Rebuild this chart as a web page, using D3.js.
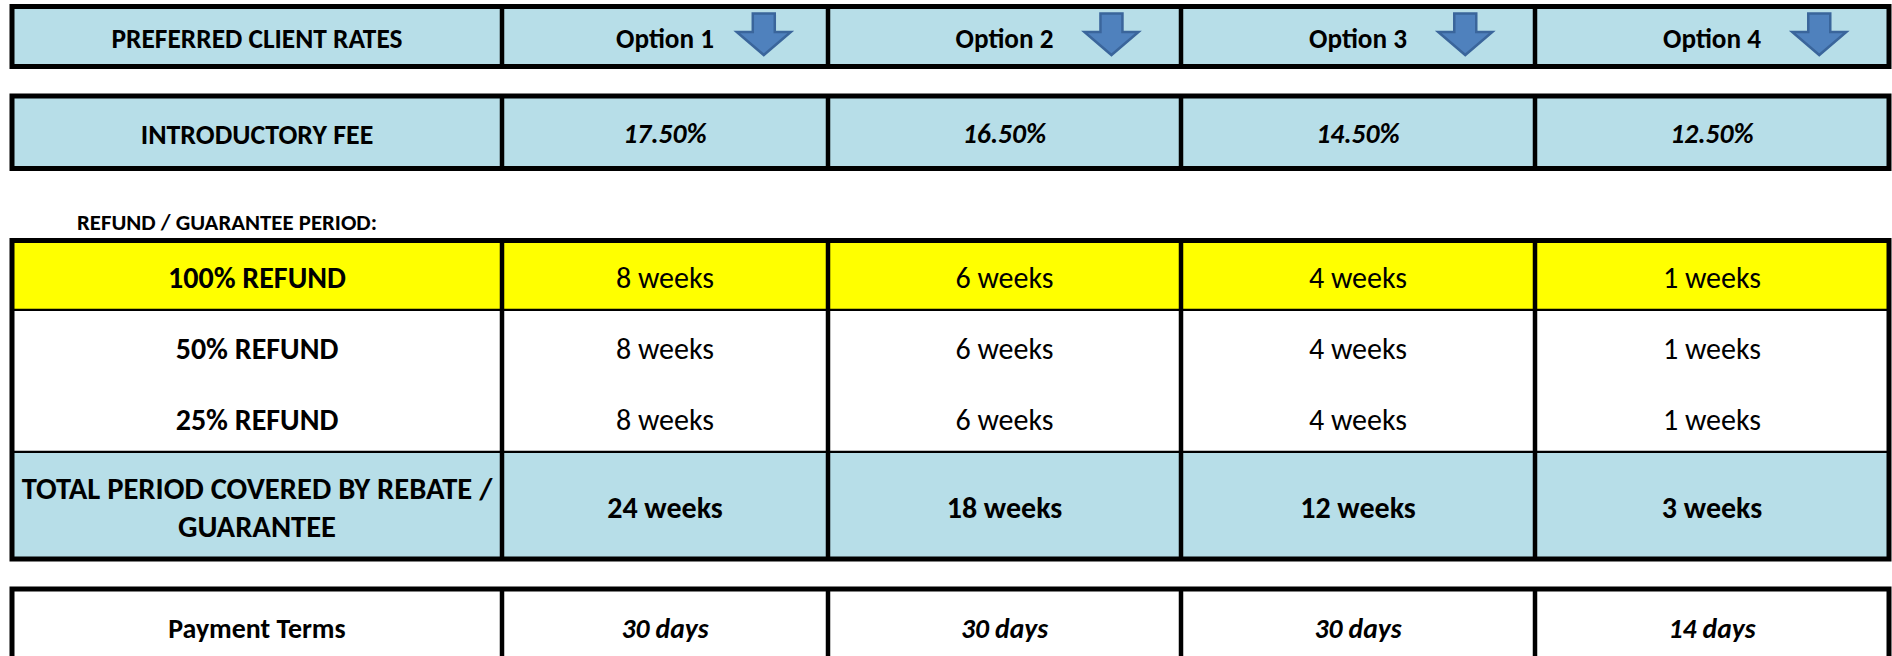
<!DOCTYPE html>
<html lang="en">
<head>
    <meta charset="UTF-8">
    <title>Preferred Client Rates</title>
    <script src="https://d3js.org/d3.v7.min.js"></script>
    <style>
        body { margin: 0; background: #fff; }
        text { font-family: Carlito, Calibri, Lato, sans-serif; fill: #000; }
    </style>
</head>
<body>
<script>
    // Table content
    var options = ["Option 1", "Option 2", "Option 3", "Option 4"];
    var introFees = ["17.50%", "16.50%", "14.50%", "12.50%"];
    var refundLabels = ["100% REFUND", "50% REFUND", "25% REFUND"];
    var refund100Weeks = [8, 6, 4, 1];
    var refund50Weeks = [8, 6, 4, 1];
    var refund25Weeks = [8, 6, 4, 1];
    var totalWeeks = [24, 18, 12, 3];
    var paymentDays = [30, 30, 30, 14];

    // Layout
    var width = 1892, height = 656;
    var colEdges = [12, 502, 828, 1181, 1535, 1889];
    var blue = "#b7dee8", yellow = "#ffff00";

    var svg = d3.select("body").append("svg")
        .attr("width", width)
        .attr("height", height);

    // x position of column i (0 = label column)
    var colLeft = d3.scaleOrdinal().domain(d3.range(5)).range(colEdges.slice(0, 5));
    var colRight = d3.scaleOrdinal().domain(d3.range(5)).range(colEdges.slice(1));
    function colCenter(i) { return (colLeft(i) + colRight(i)) / 2; }

    function weeks(n) { return n + " weeks"; }
    function days(n) { return n + " days"; }

    // each block: list of rows with y-range, fill, label and values
    var blocks = [
        { rows: [
            { y0: 6.5, y1: 66.5, fill: blue, label: ["PREFERRED CLIENT RATES"], values: options,
              size: 27.2, weight: "bold", style: "normal", labelSize: 27.4, arrow: true }
        ] },
        { rows: [
            { y0: 96, y1: 168.5, fill: blue, label: ["INTRODUCTORY FEE"], values: introFees,
              size: 27.6, weight: "bold", style: "italic", labelSize: 27.9 }
        ] },
        { rows: [
            { y0: 240.5, y1: 311, fill: yellow, label: [refundLabels[0]], values: refund100Weeks.map(weeks),
              size: 30, weight: "normal", style: "normal", labelSize: 30, line: true },
            { y0: 311, y1: 383, fill: "#fff", label: [refundLabels[1]], values: refund50Weeks.map(weeks),
              size: 30, weight: "normal", style: "normal", labelSize: 30, line: false },
            { y0: 383, y1: 453, fill: "#fff", label: [refundLabels[2]], values: refund25Weeks.map(weeks),
              size: 30, weight: "normal", style: "normal", labelSize: 30, line: true },
            { y0: 453, y1: 559, fill: blue, label: ["TOTAL PERIOD COVERED BY REBATE /", "GUARANTEE"],
              values: totalWeeks.map(weeks), size: 30, weight: "bold", style: "normal", labelSize: 30.6 }
        ] },
        { rows: [
            { y0: 589, y1: 664, fill: "#fff", label: ["Payment Terms"], values: paymentDays.map(days),
              size: 27.6, weight: "bold", style: "italic", labelSize: 27.9 }
        ] }
    ];

    blocks.forEach(function (block) {
        var g = svg.append("g");
        var top = block.rows[0].y0, bottom = block.rows[block.rows.length - 1].y1;

        block.rows.forEach(function (row) {
            // cell fills
            g.selectAll(null)
                .data(d3.range(5))
                .enter().append("rect")
                .attr("x", function (i) { return colLeft(i); })
                .attr("y", row.y0)
                .attr("width", function (i) { return colRight(i) - colLeft(i); })
                .attr("height", row.y1 - row.y0)
                .attr("fill", row.fill);

            var cy = (row.y0 + row.y1) / 2 + 1.5;

            // row label (may wrap to two lines)
            var lineGap = 38;
            row.label.forEach(function (t, k) {
                g.append("text")
                    .attr("x", colCenter(0))
                    .attr("y", cy + (k - (row.label.length - 1) / 2) * lineGap)
                    .attr("text-anchor", "middle")
                    .attr("dominant-baseline", "central")
                    .style("font-size", row.labelSize + "px")
                    .style("font-weight", "bold")
                    .text(t);
            });

            // values
            g.selectAll(null)
                .data(row.values)
                .enter().append("text")
                .attr("x", function (d, i) { return colCenter(i + 1); })
                .attr("y", cy)
                .attr("text-anchor", "middle")
                .attr("dominant-baseline", "central")
                .style("font-size", row.size + "px")
                .style("font-weight", row.weight)
                .style("font-style", row.style)
                .text(function (d) { return d; });

            // down arrows next to the option names
            if (row.arrow) {
                g.selectAll(null)
                    .data(row.values)
                    .enter().append("path")
                    .attr("transform", function (d, i) {
                        var c = i + 1;
                        var ax = colCenter(c) + 0.303 * (colRight(c) - colLeft(c));
                        return "translate(" + ax + "," + row.y0 + ")";
                    })
                    .attr("d", "M-11,7 L11,7 L11,25.5 L27,25.5 L0,48.5 L-27,25.5 L-11,25.5 Z")
                    .attr("fill", "#4f81bd")
                    .attr("stroke", "#3a659b")
                    .attr("stroke-width", 2.5)
                    .attr("stroke-linejoin", "miter");
            }

            // horizontal separator under row
            if (row.line) {
                g.append("line")
                    .attr("x1", colEdges[0]).attr("x2", colEdges[5])
                    .attr("y1", row.y1).attr("y2", row.y1)
                    .attr("stroke", "#000").attr("stroke-width", 4.5);
            }
        });

        // vertical dividers
        g.selectAll(null)
            .data(colEdges.slice(1, 5))
            .enter().append("line")
            .attr("x1", function (d) { return d; }).attr("x2", function (d) { return d; })
            .attr("y1", top).attr("y2", bottom)
            .attr("stroke", "#000").attr("stroke-width", 4.5);

        // outer border
        g.append("rect")
            .attr("x", colEdges[0]).attr("y", top)
            .attr("width", colEdges[5] - colEdges[0])
            .attr("height", bottom - top)
            .attr("fill", "none")
            .attr("stroke", "#000")
            .attr("stroke-width", 5);
    });

    // section caption above the refund table
    svg.append("text")
        .attr("x", 77)
        .attr("y", 222)
        .attr("dominant-baseline", "central")
        .style("font-size", "22.8px")
        .style("font-weight", "bold")
        .text("REFUND / GUARANTEE PERIOD:");
</script>
</body>
</html>
